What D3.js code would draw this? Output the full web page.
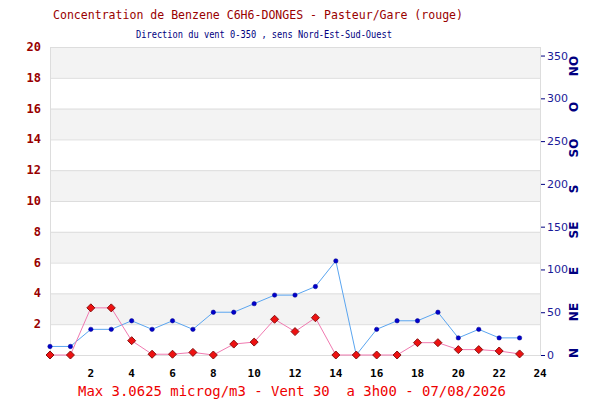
<!DOCTYPE html>
<html><head><meta charset="utf-8">
<script src="https://cdn.jsdelivr.net/npm/d3@7/dist/d3.min.js"></script>
<style>body{margin:0;background:#fff}svg{display:block}text{white-space:pre}</style>
</head><body>
<svg id="c" width="600" height="400"></svg>
<script>
const hours = d3.range(0, 24);
const benzene = [0, 0, 3.0625, 3.06, 0.93, 0.05, 0.05, 0.17, 0, 0.71, 0.84, 2.32, 1.52, 2.42, 0, 0, 0, 0, 0.8, 0.8, 0.35, 0.35, 0.26, 0.07];
const wind = [10, 10, 30, 30, 40, 30, 40, 30, 50, 50, 60, 70, 70, 80, 110, 0, 30, 40, 40, 50, 20, 30, 20, 20];
const xTicks = [2, 4, 6, 8, 10, 12, 14, 16, 18, 20, 22, 24];
const yTicks = [2, 4, 6, 8, 10, 12, 14, 16, 18, 20];
const windTicks = [0, 50, 100, 150, 200, 250, 300, 350];
const compass = ["N", "NE", "E", "SE", "S", "SO", "O", "NO"];
const title = "Concentration de Benzene C6H6-DONGES - Pasteur/Gare (rouge)";
const subtitle = "Direction du vent 0-350 , sens Nord-Est-Sud-Ouest";
const footer = "Max 3.0625 microg/m3 - Vent 30  a 3h00 - 07/08/2026";

const svg = d3.select("#c");
const L = 50, R = 540, T = 47, B = 355;
const x = d3.scaleLinear().domain([0, 24]).range([L, R]);
const y = d3.scaleLinear().domain([0, 20]).range([B, T]);
const y2 = d3.scaleLinear().domain([0, 360]).range([B, T]);
const yc = d3.scalePoint().domain(compass).range([353, 66]);
const mono = "DejaVu Sans Mono, monospace";

// bands
const bands = d3.range(0, 20, 2).filter(v => (v / 2) % 2 === 1);
svg.append("g").selectAll("rect").data(bands).join("rect")
  .attr("x", L).attr("width", R - L)
  .attr("y", d => y(d + 2)).attr("height", d => y(d) - y(d + 2))
  .attr("fill", "#f3f3f3");
// grid lines
svg.append("g").selectAll("line").data([0].concat(yTicks)).join("line")
  .attr("x1", L).attr("x2", R).attr("y1", d => y(d) + 0.5).attr("y2", d => y(d) + 0.5)
  .attr("stroke", "#dddddd").attr("stroke-width", 1);
svg.append("line").attr("x1", L + 0.5).attr("x2", L + 0.5).attr("y1", T).attr("y2", B + 1).attr("stroke", "#dddddd");
svg.append("line").attr("x1", R + 0.5).attr("x2", R + 0.5).attr("y1", T).attr("y2", B + 1).attr("stroke", "#dddddd");

// left axis labels
svg.append("g").selectAll("text").data(yTicks).join("text")
  .attr("x", 41).attr("y", d => y(d) + 4).attr("text-anchor", "end")
  .attr("font-family", mono).attr("font-weight", "bold")
  .attr("font-size", 12).attr("fill", "#990000").text(d => d);

// x labels
svg.append("g").selectAll("text").data(xTicks).join("text")
  .attr("x", d => x(d)).attr("y", 377).attr("text-anchor", "middle")
  .attr("font-family", mono).attr("font-weight", "bold")
  .attr("font-size", 11).attr("fill", "#000").text(d => d);

// right axis
const ra = svg.append("g");
ra.selectAll("line").data(windTicks).join("line")
  .attr("x1", R + 1).attr("x2", R + 5).attr("y1", d => y2(d) + 0.5).attr("y2", d => y2(d) + 0.5)
  .attr("stroke", "#000080");
ra.selectAll("text").data(windTicks).join("text")
  .attr("x", 547).attr("y", d => y2(d) + 4)
  .attr("font-family", "DejaVu Sans, sans-serif").attr("font-size", 11)
  .attr("fill", "#1a1a99").text(d => d);
svg.append("g").selectAll("text").data(compass).join("text")
  .attr("transform", d => `translate(578,${yc(d)}) rotate(-90)`)
  .attr("text-anchor", "middle")
  .attr("font-family", "DejaVu Sans, sans-serif").attr("font-weight", "bold").attr("font-size", 12)
  .attr("fill", "#000080").text(d => d);

// lines
const lineB = d3.line().x((d, i) => x(hours[i])).y(d => y(d));
const lineW = d3.line().x((d, i) => x(hours[i])).y(d => y2(d));
svg.append("path").datum(wind).attr("d", lineW).attr("fill", "none").attr("stroke", "#5aa5f0").attr("stroke-width", 1);
svg.append("path").datum(benzene).attr("d", lineB).attr("fill", "none").attr("stroke", "#f07ab0").attr("stroke-width", 1);

svg.append("g").selectAll("circle").data(wind).join("circle")
  .attr("cx", (d, i) => x(hours[i])).attr("cy", d => y2(d)).attr("r", 2.2)
  .attr("fill", "#0000cc").attr("stroke", "#000088").attr("stroke-width", 0.5);

svg.append("g").selectAll("path").data(benzene).join("path")
  .attr("transform", (d, i) => `translate(${x(hours[i])},${y(d)})`)
  .attr("d", "M0,-4L4,0L0,4L-4,0Z")
  .attr("fill", "#ee1111").attr("stroke", "#881111").attr("stroke-width", 1);

// texts
svg.append("text").attr("x", 53).attr("y", 19).attr("textLength", 410).attr("lengthAdjust", "spacingAndGlyphs")
  .attr("font-family", mono).attr("font-size", 13).attr("fill", "#990000").text(title);
svg.append("text").attr("x", 136).attr("y", 38).attr("textLength", 256).attr("lengthAdjust", "spacingAndGlyphs")
  .attr("font-family", mono).attr("font-size", 10).attr("fill", "#000080").text(subtitle);
svg.append("text").attr("x", 78).attr("y", 396).attr("textLength", 428).attr("lengthAdjust", "spacingAndGlyphs")
  .attr("font-family", mono).attr("font-size", 14.5).attr("fill", "#ee0000").text(footer);
</script>
</body></html>
